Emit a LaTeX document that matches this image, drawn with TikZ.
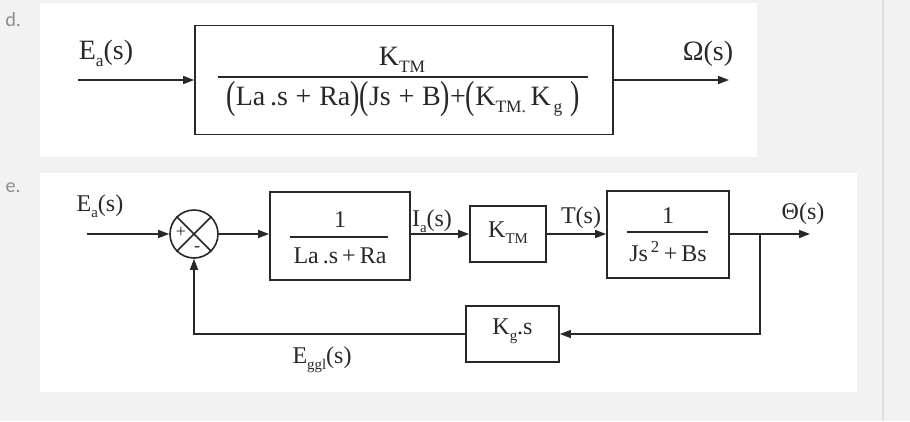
\documentclass[tikz,border=0pt]{standalone}
\usepackage{fontspec}
\usepackage{graphicx}
\setmainfont{Liberation Serif}
\newfontfamily\labfont{Lato}
\usetikzlibrary{arrows.meta}
\definecolor{bgc}{RGB}{242,242,242}
\definecolor{sepc}{RGB}{222,222,222}
\definecolor{ink}{RGB}{40,40,40}
\definecolor{labc}{RGB}{140,140,140}
\newcommand\bpar[1]{\raisebox{-0.12em}{\scalebox{1}[1.4]{#1}}}
\newcommand\sbs[1]{\raisebox{-0.25em}{\scalebox{0.62}{#1}}}
\begin{document}
\begin{tikzpicture}[x=1pt,y=-1pt,
  blk/.style={draw=ink,line width=1.8pt,fill=white,inner sep=0pt},
  wire/.style={draw=ink,line width=1.6pt},
  arr/.style={wire,-{Triangle[length=11pt,width=8pt]}},
  tdl/.style={font=\fontsize{28}{30}\selectfont,text=ink,inner sep=0pt},
  tel/.style={font=\fontsize{24}{26}\selectfont,text=ink,inner sep=0pt},
  seclab/.style={font=\labfont\fontsize{19}{20}\selectfont,text=labc,inner sep=0pt}]
\useasboundingbox (0,0) rectangle (910,421);
\fill[bgc] (0,0) rectangle (910,421);
\fill[white] (40,3) rectangle (757,157);
\fill[white] (40,173) rectangle (857,392);
\draw[sepc,line width=1.2pt] (883,0) -- (883,421);
\node[seclab] (ld) at (13,20) {d.};
\node[seclab] (le) at (13,188) {e.};
% ---- panel d ----
\node[blk,minimum width=418,minimum height=109] (G) at (404,80) {};
\coordinate (din) at (78,80);
\coordinate (dout) at (729,80);
\draw[arr] (din) -- (G.west);
\draw[arr] (G.east) -- (dout);
\node[tdl] (ea) at (106,53) {E\sbs{a}(s)};
\node[tdl] (om) at (708,54) {Ω(s)};
\node[tdl] (num) at (402,60) {K\sbs{TM}};
\draw[ink,line width=1.4pt] (218,77) -- (588,77);
\node[tdl] (den) at (403,99) {\bpar{(}La\,.s\;+\;Ra\bpar{)}\bpar{(}Js\;+\;B\bpar{)}+\bpar{(}K\sbs{TM.}\,K\sbs{\,g}\;\bpar{)}};
% ---- panel e ----
\node[draw=ink,line width=1.6pt,circle,minimum size=48,inner sep=0pt,fill=white] (sum) at (194,234) {};
\draw[ink,line width=1.6pt] (sum.45) -- (sum.225) (sum.135) -- (sum.-45);
\node[font=\fontsize{18}{18}\selectfont,text=ink,inner sep=0pt] (pl) at (181,232) {+};
\node[font=\fontsize{18}{18}\selectfont,text=ink,inner sep=0pt] (mi) at (197,249) {-};
\node[blk,minimum width=140,minimum height=88] (b1) at (340,236) {};
\node[blk,minimum width=76,minimum height=56] (ktm) at (508,234) {};
\node[tel] (ktmt) at (508,233) {K\sbs{TM}};
\node[blk,minimum width=122,minimum height=87] (b3) at (668,234.5) {};
\node[blk,minimum width=93,minimum height=56] (kg) at (512.5,334) {};
\node[tel] (kgt) at (512.5,331) {K\sbs{g}.s};
\node[tel] (n1) at (340,220) {1};
\draw[ink,line width=1.3pt] (290,237) -- (388,237);
\node[tel] (d1) at (340,256) {La\,.s\,+\,Ra};
\node[tel] (n3) at (668,216) {1};
\draw[ink,line width=1.3pt] (627,232) -- (708,232);
\node[tel] (d3) at (668,252) {Js\textsuperscript{\,2}\,+\,Bs};
\coordinate (ein) at (87,234);
\coordinate (br) at (760,234);
\coordinate (eout) at (810,234);
\draw[arr] (ein) -- (sum.west);
\draw[arr] (sum.east) -- (b1.west |- sum.east);
\draw[arr] (b1.east |- ktm.west) -- (ktm.west);
\draw[arr] (ktm.east) -- (b3.west |- ktm.east);
\draw[wire] (b3.east |- br) -- (br);
\draw[arr] (br) -- (eout);
\draw[arr] (br) |- (kg.east);
\draw[arr] (kg.west) -| (sum.south);
\node[tel] (eal) at (100,206) {E\sbs{a}(s)};
\node[tel] (ial) at (432,221) {I\sbs{a}(s)};
\node[tel] (tl) at (581,218) {T(s)};
\node[tel] (thl) at (803,214) {Θ(s)};
\node[tel] (egl) at (322,360) {E\sbs{ggl}(s)};
\end{tikzpicture}
\end{document}
